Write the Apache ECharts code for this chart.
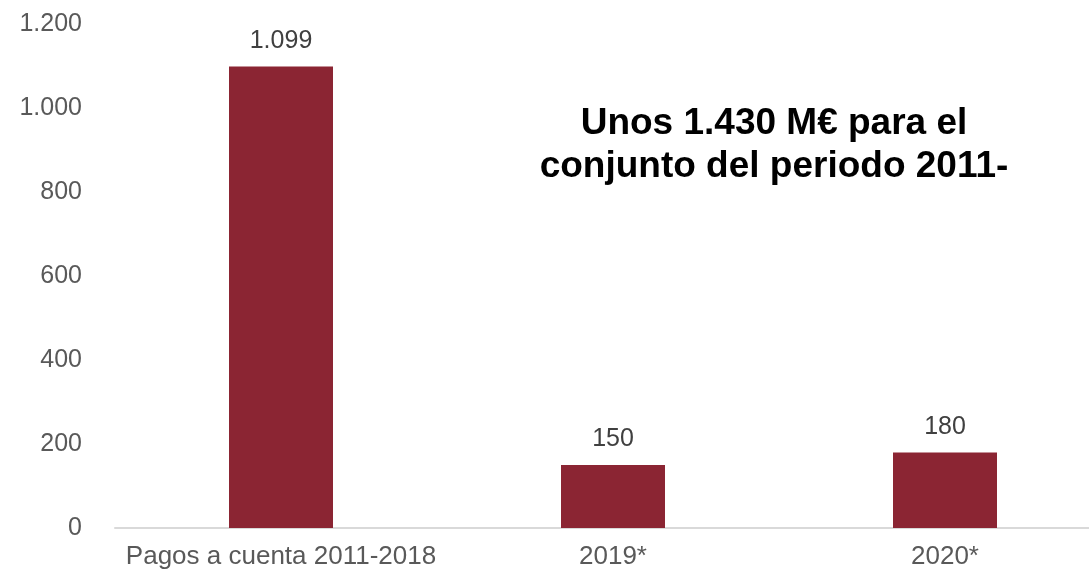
<!DOCTYPE html>
<html><head><meta charset="utf-8">
<script src="https://cdn.jsdelivr.net/npm/echarts@6/dist/echarts.min.js"></script>
<style>html,body{margin:0;padding:0;background:#fff}#c{width:1089px;height:573px}</style>
</head><body><div id="c"></div>
<script>
const categories = ["Pagos a cuenta 2011-2018", "2019*", "2020*"];
const values = [1099, 150, 180];
const yTicks = [0, 200, 400, 600, 800, 1000, 1200];
const annotation = ["Unos 1.430 M€ para el", "conjunto del periodo 2011-"];

function fmt(v){ return String(v).replace(/\B(?=(\d{3})+(?!\d))/g, "."); }

const chart = echarts.init(document.getElementById('c'));
chart.setOption({
  animation:false,
  grid:{left:115, width:996, top:24, bottom:45, containLabel:false, outerBoundsMode:'none'},
  xAxis:{type:'category', data:categories,
    axisLine:{lineStyle:{color:'#d9d9d9', width:2}},
    axisTick:{show:false},
    axisLabel:{interval:0, color:'#595959', fontSize:26, fontFamily:'Liberation Sans, Arial', margin:16, hideOverlap:false}},
  yAxis:{type:'value', min:yTicks[0], max:yTicks[yTicks.length-1], interval:200,
    splitLine:{show:false}, axisLine:{show:false}, axisTick:{show:false},
    axisLabel:{color:'#595959', fontSize:25, fontFamily:'Liberation Sans, Arial', margin:33, formatter:fmt}},
  series:[{type:'bar', data:values, barWidth:104,
    itemStyle:{color:'#8b2533'},
    label:{show:true, position:'top', distance:13, color:'#404040', fontSize:25,
      fontFamily:'Liberation Sans, Arial', formatter:p=>fmt(p.value)}}],
  graphic:[{type:'text', left:774-300, top:102, style:{
    text:annotation.join('\n'), width:600, x:300,
    font:'bold 37px "Liberation Sans", Arial', fill:'#000', lineHeight:43, textAlign:'center'}}]
});
</script></body></html>
